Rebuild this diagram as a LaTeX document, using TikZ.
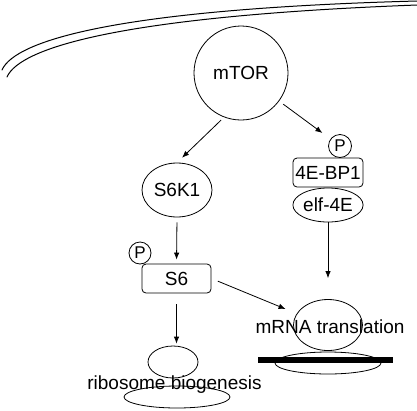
\documentclass[tikz,border=0pt]{standalone}
\usepackage{fontspec}
\setmainfont{Liberation Sans}
\usepackage{tikz}
\usetikzlibrary{arrows.meta,shapes.geometric}
\tikzset{
  base/.style={draw=black, line width=0.8pt},
  memb/.style={draw=black, line width=1pt, line cap=round},
  arr/.style={base, -{Latex[length=7pt,width=5.5pt]}},
  oval/.style={base, ellipse, inner sep=0pt},
  box/.style={base, rectangle, rounded corners=4pt, inner sep=0pt},
  phos/.style={base, circle, inner sep=0pt, minimum size=23pt, font=\fontsize{17}{19}\selectfont},
  lab/.style={font=\fontsize{19}{21}\selectfont},
}
\begin{document}
\begin{tikzpicture}[x=1pt,y=-1pt]
  \useasboundingbox (0,0) rectangle (417,410);
  % membrane
  \draw[memb] (2,70) .. controls (15,40) and (120,9) .. (417,1);
  \draw[memb] (7,77) .. controls (20,47) and (125,16) .. (417,5);
  % signalling nodes
  \node[base, circle, minimum size=94pt, inner sep=0pt, lab] (mtor) at (241,73) {mTOR};
  \node[oval, minimum width=70pt, minimum height=54pt, lab] (s6k1) at (177,190) {S6K1};
  \node[phos] (p1) at (340,146) {P};
  \node[box, minimum width=70pt, minimum height=29pt, lab] (bp1) at (328,172.5) {4E-BP1};
  \node[oval, minimum width=70pt, minimum height=34pt, lab] (eif) at (328,205) {elf-4E};
  \node[phos, minimum size=22pt] (p2) at (140,253) {P};
  \node[box, minimum width=69pt, minimum height=29pt, lab] (s6) at (176.5,278.5) {S6};
  % ribosome
  \node[oval, minimum width=50pt, minimum height=32pt] (rsmall) at (173,362) {};
  \node[oval, minimum width=106pt, minimum height=22pt] (rlarge) at (177,397) {};
  \node[lab] (rtext) at (174.5,385) {ribosome biogenesis};
  % translating ribosome on mRNA
  \node[oval, minimum width=69pt, minimum height=51pt] (msmall) at (328,325) {};
  \node[oval, minimum width=106pt, minimum height=22pt] (mlarge) at (328,363) {};
  \coordinate (mrnaL) at (258,360);
  \coordinate (mrnaR) at (393,360);
  \draw[line width=6pt] (mrnaL) -- (mrnaR);
  \node[lab] (mtext) at (330,327) {mRNA translation};
  % arrows
  \draw[arr, shorten <=4pt, shorten >=7pt] (mtor.249) -- (s6k1.north);
  \draw[arr, shorten <=5pt, shorten >=10pt] (mtor) -- (p1);
  \draw[arr, shorten <=5pt, shorten >=4pt] (s6k1.south) -- (s6.north);
  \draw[arr, shorten >=21pt] (eif.south) -- (msmall.north);
  \draw[arr, shorten <=7pt, shorten >=12pt] (s6.east) -- (msmall.160);
  \draw[arr, shorten <=11pt, shorten >=2pt] (s6.south) -- (s6.south |- rsmall.north);
\end{tikzpicture}
\end{document}
